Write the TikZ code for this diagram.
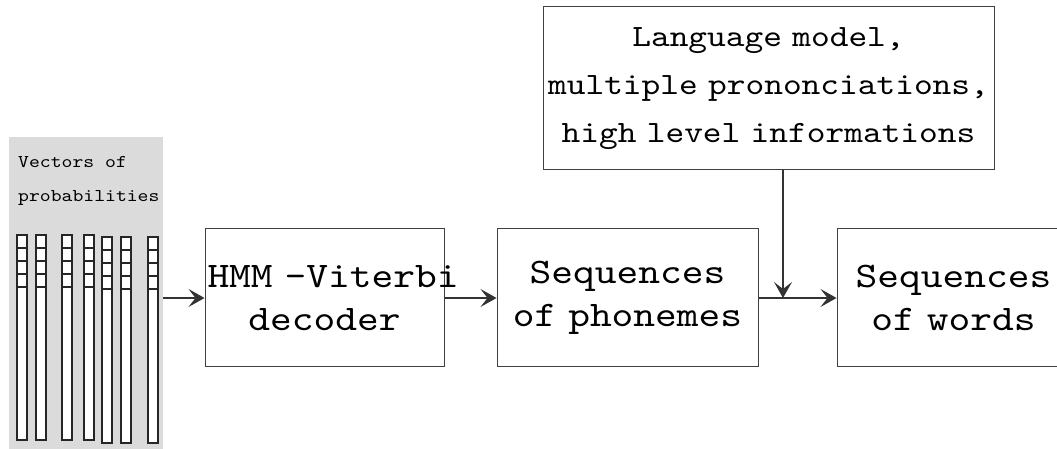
\documentclass[tikz,border=0pt]{standalone}
\usepackage{fontspec}
\usetikzlibrary{arrows.meta}
\newfontfamily\diagfont{lmmono10-regular.otf}[FakeStretch=1.15]

\begin{document}
\begin{tikzpicture}[x=1pt,y=1pt,
    stage/.style={draw=black!75,line width=1pt,inner sep=0pt,align=center,
      minimum height=138pt,font=\diagfont\fontsize{36}{43}\selectfont},
    arr/.style={draw=black!80,line width=1.2pt,-{Stealth[length=16pt,width=18pt,inset=7pt]}},
    bar/.style={draw=black!85,line width=2pt,fill=white}]

      \clip (0,0) rectangle (1057,449);

      % Vectors of probabilities
      \node[fill=black!14,inner sep=0pt,minimum width=154pt,minimum height=312pt]
        (vecs) at (86,156) {};
      \node[anchor=base west,inner sep=0pt,font=\diagfont\fontsize{18}{34}\selectfont]
        (vlab) at (18,281) {Vectors of};
      \node[anchor=base west,inner sep=0pt,font=\diagfont\fontsize{18}{34}\selectfont]
        (plab) at (18,247) {probabilities};
      \foreach \x/\t/\b in {17/214/9,36/214/9,62/214/9,84/214/9,102/212/6,121/212/6,148/212/6} {
        \draw[bar] (\x,\b) rectangle ++(10,\t-\b);
        \foreach \k in {1,...,4}
          \draw[bar] (\x,\t-13*\k) -- ++(10,0);
      }

      % Stages
      \node[stage,text width=234pt,inner xsep=2.5pt] (hmm) at (324.5,151) {\mbox{HMM -Viterbi}\\decoder};
      \node[stage,text width=256pt,inner xsep=2.5pt] (phon) at (627.5,151) {Sequences\\of phonemes};
      \node[stage,text width=228pt,inner xsep=2.5pt] (words) at (953.5,151) {Sequences\\of words};
      \node[stage,text width=446pt,inner xsep=2.5pt,minimum height=163pt,
        font=\diagfont\fontsize{31}{48}\selectfont] (lang) at (768.5,360.5)
        {Language model,\\multiple prononciations,\\high level informations};

      % Arrows
      \coordinate (join) at (783,151);
      \draw[arr] (vecs.east |- hmm.west) -- (hmm.west);
      \draw[arr] (hmm.east) -- (phon.west);
      \draw[arr] (phon.east) -- (words.west);
      \draw[arr] (lang.south -| join) -- (join);

    \end{tikzpicture}
\end{document}
